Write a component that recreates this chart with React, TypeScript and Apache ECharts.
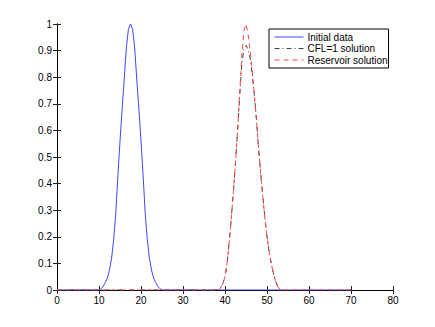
import React, { useEffect, useRef } from "react";
import * as echarts from "echarts";

const xTicks = [0, 10, 20, 30, 40, 50, 60, 70, 80];

const initialX = [0, 10, 10.5, 11, 11.5, 12, 12.5, 13, 13.5, 14, 14.5, 15, 15.5, 16, 16.5, 17, 17.5, 18, 18.5, 19, 19.5, 20, 20.5, 21, 21.5, 22, 22.5, 23, 23.5, 24, 24.5, 25, 70];
const initialY = [0, 0, 0.005, 0.014, 0.028, 0.045, 0.075, 0.12, 0.19, 0.29, 0.43, 0.56, 0.68, 0.79, 0.91, 0.98, 1.0, 0.98, 0.91, 0.79, 0.68, 0.56, 0.43, 0.29, 0.19, 0.12, 0.075, 0.045, 0.028, 0.014, 0.005, 0, 0];

const cflX = [0, 38.5, 39, 39.5, 40, 40.5, 41, 41.5, 42, 42.5, 43, 43.5, 44, 44.5, 45, 45.5, 46, 46.5, 47, 47.5, 48, 48.5, 49, 49.5, 50, 50.5, 51, 51.5, 52, 52.5, 53, 53.5];
const cflY = [0, 0, 0.01, 0.025, 0.05, 0.1, 0.18, 0.27, 0.37, 0.48, 0.6, 0.73, 0.85, 0.905, 0.92, 0.905, 0.87, 0.81, 0.73, 0.64, 0.53, 0.44, 0.35, 0.27, 0.2, 0.145, 0.1, 0.065, 0.035, 0.015, 0.004, 0];

const resX = [0, 38.5, 39, 39.5, 40, 40.5, 41, 41.5, 42, 42.5, 43, 43.5, 44, 44.5, 45, 45.5, 46, 46.5, 47, 47.5, 48, 48.5, 49, 49.5, 50, 50.5, 51, 51.5, 52, 52.5, 53, 53.5, 70];
const resY = [0, 0, 0.01, 0.025, 0.05, 0.1, 0.18, 0.27, 0.37, 0.48, 0.6, 0.74, 0.88, 0.975, 1.0, 0.96, 0.9, 0.82, 0.73, 0.64, 0.53, 0.44, 0.35, 0.27, 0.2, 0.145, 0.1, 0.065, 0.035, 0.015, 0.004, 0, 0];

const zip = (xs: number[], ys: number[]) => xs.map((x, i) => [x, ys[i]]);

export default function App() {
  const ref = useRef<HTMLDivElement>(null);
  useEffect(() => {
    if (!ref.current) return;
    const chart = echarts.init(ref.current, null, { renderer: "svg" });
    const font = "'Liberation Sans', Arial, Helvetica, sans-serif";
    const tickStyle = { show: true, inside: true, length: 4, lineStyle: { color: "#222", width: 1 } };
    chart.setOption({
      animation: false,
      backgroundColor: "#fff",
      textStyle: { fontFamily: font },
      grid: { left: 57, top: 24, right: 42, bottom: 37, show: false },
      legend: {
        orient: "vertical",
        left: 269,
        top: 29,
        padding: [2.5, 1, 2.5, 5],
        itemWidth: 29,
        itemHeight: 6,
        itemGap: 0.5,
        borderColor: "#000",
        borderWidth: 1,
        backgroundColor: "#fff",
        itemStyle: { opacity: 0 },
        lineStyle: { width: 1, opacity: 1 },
        textStyle: { fontFamily: font, fontSize: 10, color: "#000", lineHeight: 11, padding: [0, 0, 0, -1] },
        data: ["Initial data", "CFL=1 solution", "Reservoir solution"],
      },
      xAxis: [
        {
          type: "value", min: 0, max: 80, interval: 10, position: "bottom",
          axisLine: { show: true, lineStyle: { color: "#000", width: 1 } },
          axisTick: tickStyle,
          splitLine: { show: false },
          axisLabel: { fontFamily: font, fontSize: 10, color: "#000", margin: 5, customValues: xTicks },
        },
        {
          type: "value", min: 0, max: 80, interval: 10, position: "top",
          axisLine: { show: true, lineStyle: { color: "#000", width: 1 } },
          axisTick: tickStyle,
          splitLine: { show: false },
          axisLabel: { show: false },
        },
      ],
      yAxis: [
        {
          type: "value", min: 0, max: 1, interval: 0.1, position: "left",
          axisLine: { show: true, lineStyle: { color: "#000", width: 1 } },
          axisTick: tickStyle,
          splitLine: { show: false },
          axisLabel: { fontFamily: font, fontSize: 10, color: "#000", margin: 5 },
        },
        {
          type: "value", min: 0, max: 1, interval: 0.1, position: "right",
          axisLine: { show: true, lineStyle: { color: "#000", width: 1 } },
          axisTick: tickStyle,
          splitLine: { show: false },
          axisLabel: { show: false },
        },
      ],
      series: [
        {
          name: "Initial data", type: "line", symbol: "none", data: zip(initialX, initialY),
          lineStyle: { color: "#4444ff", width: 1 }, itemStyle: { color: "#4444ff" },
        },
        {
          name: "CFL=1 solution", type: "line", symbol: "none", data: zip(cflX, cflY),
          lineStyle: { color: "#444", width: 1, type: [5, 3, 1, 3] }, itemStyle: { color: "#444" },
        },
        {
          name: "Reservoir solution", type: "line", symbol: "none", data: zip(resX, resY),
          lineStyle: { color: "#ff4444", width: 1, type: [5, 4] }, itemStyle: { color: "#ff4444" },
        },
      ],
    });
    return () => chart.dispose();
  }, []);
  return <div ref={ref} style={{ position: "absolute", left: 0, top: 0, width: 435, height: 327 }} />;
}
